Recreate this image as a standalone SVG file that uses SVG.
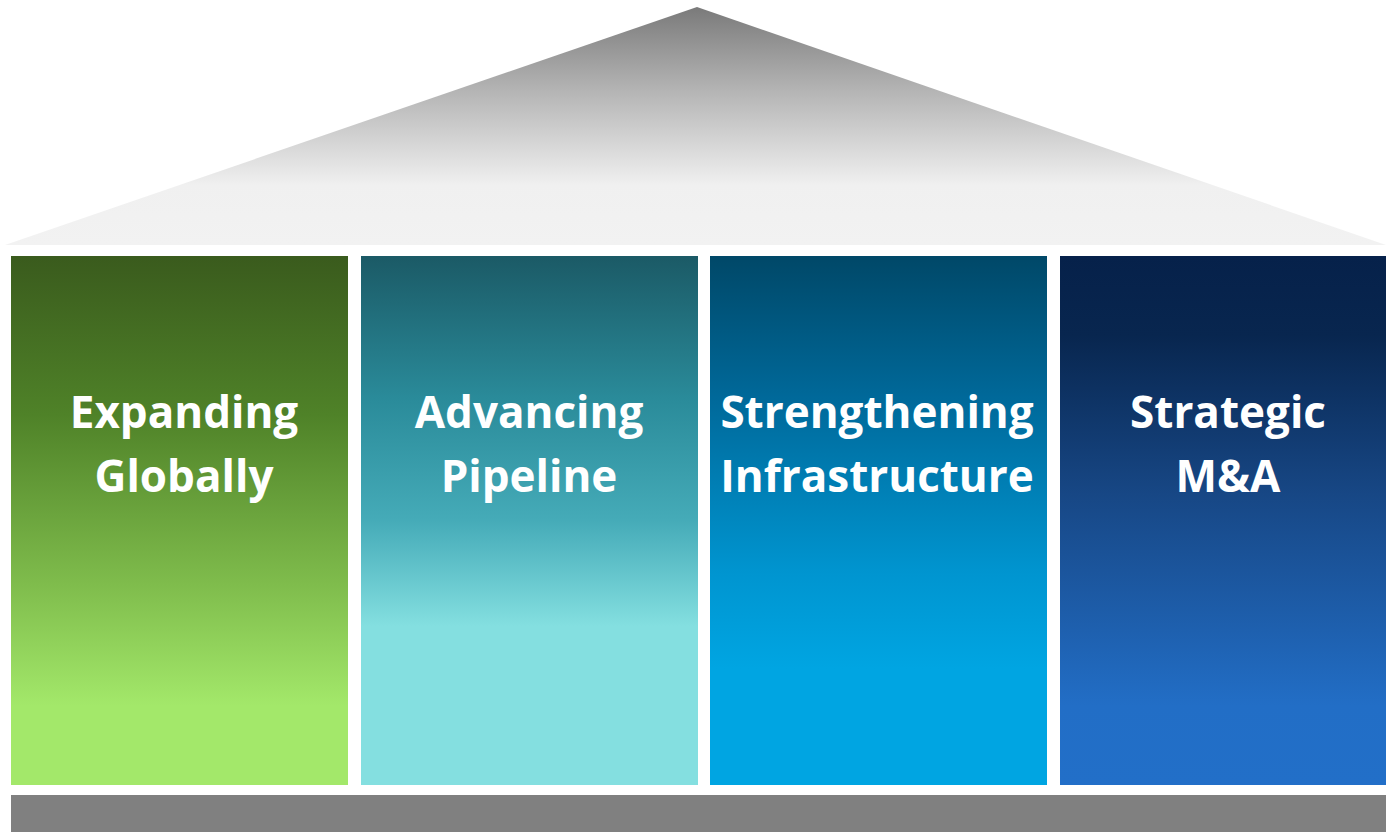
<svg xmlns="http://www.w3.org/2000/svg" width="1386" height="832" viewBox="0 0 1386 832">
<defs>
<linearGradient id="roof" x1="0" y1="7" x2="0" y2="245" gradientUnits="userSpaceOnUse">
<stop offset="0" stop-color="#7a7a7a"/>
<stop offset="0.35" stop-color="#b4b4b4"/>
<stop offset="0.75" stop-color="#f0f0f0"/>
<stop offset="1" stop-color="#f2f2f2"/>
</linearGradient>
<linearGradient id="g1" x1="0" y1="256" x2="0" y2="785" gradientUnits="userSpaceOnUse">
<stop offset="0" stop-color="#3a5b1d"/>
<stop offset="0.3" stop-color="#4f8228"/>
<stop offset="0.62" stop-color="#7fbc4c"/>
<stop offset="0.85" stop-color="#a3e86a"/>
<stop offset="1" stop-color="#a3e86a"/>
</linearGradient>
<linearGradient id="g2" x1="0" y1="256" x2="0" y2="785" gradientUnits="userSpaceOnUse">
<stop offset="0" stop-color="#1b5a66"/>
<stop offset="0.27" stop-color="#2a8b9a"/>
<stop offset="0.5" stop-color="#45abb8"/>
<stop offset="0.7" stop-color="#84dfe0"/>
<stop offset="1" stop-color="#84dfe0"/>
</linearGradient>
<linearGradient id="g3" x1="0" y1="256" x2="0" y2="785" gradientUnits="userSpaceOnUse">
<stop offset="0" stop-color="#004868"/>
<stop offset="0.27" stop-color="#00699a"/>
<stop offset="0.6" stop-color="#0095d0"/>
<stop offset="0.78" stop-color="#00a5e2"/>
<stop offset="1" stop-color="#00a5e2"/>
</linearGradient>
<linearGradient id="g4" x1="0" y1="256" x2="0" y2="785" gradientUnits="userSpaceOnUse">
<stop offset="0" stop-color="#06214a"/>
<stop offset="0.15" stop-color="#08264f"/>
<stop offset="0.45" stop-color="#174785"/>
<stop offset="0.85" stop-color="#226ec6"/>
<stop offset="1" stop-color="#226fc8"/>
</linearGradient>
<style>
.lbl{font-family:"Open Sans","Liberation Sans",sans-serif;font-weight:bold;font-size:44px;fill:#ffffff;text-anchor:middle}
</style>
</defs>
<g id="roof"><polygon points="697,7 1386,245 5,245" fill="url(#roof)"/></g>
<g id="pillar1"><rect x="11" y="256" width="337" height="529" fill="url(#g1)"/>
<text class="lbl" x="184" y="428">Expanding</text><text class="lbl" x="184" y="492">Globally</text></g>
<g id="pillar2"><rect x="361" y="256" width="337" height="529" fill="url(#g2)"/>
<text class="lbl" x="529" y="428">Advancing</text><text class="lbl" x="529" y="492">Pipeline</text></g>
<g id="pillar3"><rect x="710" y="256" width="337" height="529" fill="url(#g3)"/>
<text class="lbl" x="877" y="428">Strengthening</text><text class="lbl" x="877" y="492">Infrastructure</text></g>
<g id="pillar4"><rect x="1060" y="256" width="326" height="529" fill="url(#g4)"/>
<text class="lbl" x="1228" y="428">Strategic</text><text class="lbl" x="1228" y="492">M&amp;A</text></g>
<g id="base"><rect x="11" y="795" width="1375" height="37" fill="#808080"/></g>
<g id="connectors"/>
</svg>
